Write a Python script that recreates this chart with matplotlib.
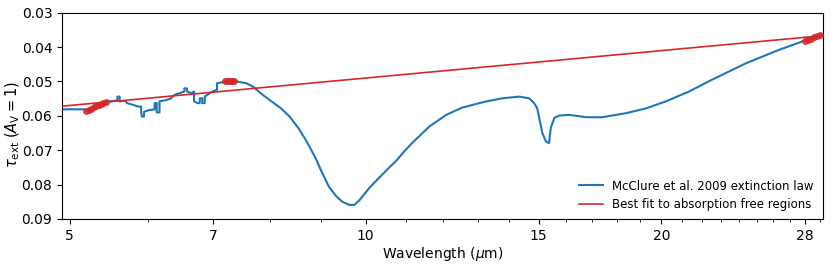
import numpy as np
import matplotlib
matplotlib.use("Agg")
import matplotlib.pyplot as plt
from matplotlib.ticker import FixedLocator, NullFormatter, FixedFormatter

# McClure et al. 2009 extinction law
wavelength = [4.91, 5.18, 5.20, 5.44, 5.47, 5.56, 5.59, 5.59, 5.62, 5.62, 5.69, 5.72,
              5.80, 5.87, 5.91, 5.91, 5.92, 5.95, 5.95, 6.03, 6.10, 6.10, 6.13, 6.13,
              6.17, 6.17, 6.27, 6.34, 6.39, 6.47, 6.54, 6.54, 6.58, 6.58, 6.65, 6.69,
              6.69, 6.75, 6.78, 6.78, 6.82, 6.82, 6.86, 6.86, 6.94, 6.99, 7.06, 7.06,
              7.13, 7.19, 7.39, 7.56, 7.68, 7.86, 8.04, 8.20, 8.37, 8.55, 8.70, 8.77,
              8.91, 8.97, 9.04, 9.18, 9.33, 9.47, 9.63, 9.74, 9.86, 10.09, 10.33, 10.57,
              10.75, 10.95, 11.16, 11.61, 12.08, 12.54, 13.05, 13.27, 13.77, 14.33, 14.67,
              14.84, 14.95, 15.02, 15.13, 15.26, 15.37, 15.43, 15.56, 15.74, 16.11, 16.77,
              17.41, 18.42, 19.30, 20.2, 21.34, 22.51, 24.38, 26.34, 28.1, 29.12]
tau_ext = [0.0581, 0.0581, 0.0585, 0.0558, 0.0558, 0.0556, 0.0556, 0.0544, 0.0544, 0.0558,
           0.0556, 0.0563, 0.0568, 0.0573, 0.0573, 0.0588, 0.0602, 0.0602, 0.0588, 0.0583,
           0.0581, 0.0563, 0.0563, 0.0590, 0.0590, 0.0558, 0.0554, 0.0549, 0.0539, 0.0534,
           0.0529, 0.0520, 0.0520, 0.0529, 0.0534, 0.0529, 0.0558, 0.0563, 0.0563, 0.0549,
           0.0549, 0.0563, 0.0563, 0.0544, 0.0534, 0.0529, 0.0524, 0.0505, 0.0503, 0.0500,
           0.0500, 0.0505, 0.0515, 0.0539, 0.0560, 0.0578, 0.0602, 0.0637, 0.0672, 0.0690,
           0.0727, 0.0747, 0.0768, 0.0807, 0.0833, 0.0850, 0.0859, 0.0859, 0.0845, 0.0809,
           0.0779, 0.0750, 0.0730, 0.0703, 0.0678, 0.0631, 0.0597, 0.0576, 0.0563, 0.0558,
           0.0549, 0.0544, 0.0549, 0.0563, 0.0578, 0.0607, 0.0650, 0.0675, 0.0679, 0.0635,
           0.0606, 0.0599, 0.0597, 0.0604, 0.0604, 0.0592, 0.0578, 0.0558, 0.0529, 0.0495,
           0.0447, 0.0408, 0.0379, 0.0365]

# Data points in absorption-free regions used for the fit
fit_wl = [5.20, 5.23, 5.26, 5.29, 5.32, 5.35, 5.38, 5.41, 5.44,
          7.20, 7.23, 7.26, 7.29, 7.32, 7.35,
          28.0, 28.2, 28.4, 28.6, 28.8, 29.0]
fit_tau = [0.0585, 0.0582, 0.0579, 0.0575, 0.0572, 0.0569, 0.0566, 0.0562, 0.0559,
           0.0500, 0.0500, 0.0500, 0.0500, 0.0500, 0.0500,
           0.0381, 0.0378, 0.0375, 0.0372, 0.0369, 0.0366]

# Best fit: tau = a + b*log10(lambda)
fit_a = 0.0755
fit_b = -0.0265

x_major = [5, 7, 10, 15, 20, 28]
x_minor = list(range(5, 30))
y_ticks = [0.03, 0.04, 0.05, 0.06, 0.07, 0.08, 0.09]
xlim = (4.91, 29.2)

fig = plt.figure(figsize=(8.31, 2.65), dpi=100)
ax = fig.add_axes([0.0746, 0.1736, 0.9158, 0.7784])

ax.plot(wavelength, tau_ext, color='#1f77b4', lw=1.5,
        label='McClure et al. 2009 extinction law', zorder=2)
xl = np.array(xlim)
ax.plot(xl, fit_a + fit_b * np.log10(xl), color='#d62728', lw=1.2,
        label='Best fit to absorption free regions', zorder=3)
ax.plot(fit_wl, fit_tau, 'o', color='#d62728', ms=4, alpha=0.8, zorder=4)

ax.set_xscale('log')
ax.set_xlim(*xlim)
ax.set_ylim(0.09, 0.03)
ax.xaxis.set_major_locator(FixedLocator(x_major))
ax.xaxis.set_major_formatter(FixedFormatter([str(v) for v in x_major]))
ax.xaxis.set_minor_locator(FixedLocator(x_minor))
ax.xaxis.set_minor_formatter(NullFormatter())
ax.set_yticks(y_ticks)
ax.set_yticklabels([f'{v:.2f}' for v in y_ticks])
ax.tick_params(labelsize=10)

ax.set_xlabel(r'Wavelength ($\mu$m)', fontsize=10, labelpad=2)
ax.set_ylabel(r'$\tau_{\rm ext}$ ($A_{\rm V} = 1$)', fontsize=10.5)
ax.yaxis.set_label_coords(-0.053, 0.46)
ax.legend(loc='lower right', frameon=False, fontsize=8.5,
          bbox_to_anchor=(1.002, -0.015))

fig.savefig('out.png', dpi=100)
